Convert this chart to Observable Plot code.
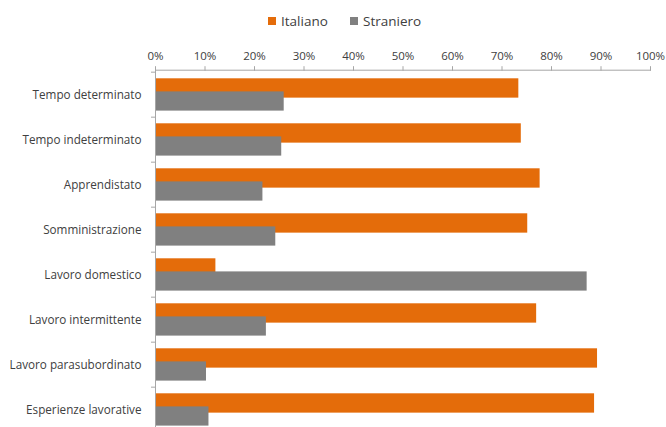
<!DOCTYPE html>
<html>
<head>
<meta charset="utf-8">
<script src="https://cdn.jsdelivr.net/npm/d3@7"></script>
<script src="https://cdn.jsdelivr.net/npm/@observablehq/plot@0.6"></script>
<style>
  html, body { margin: 0; padding: 0; background: #fff; overflow: hidden; }
  body { width: 666px; height: 427px; font-family: "Open Sans", sans-serif; }
  #legend { height: 36px; position: relative; font-size: 13.5px; color: #404040; }
  #legend .item { position: absolute; top: 12px; display: flex; align-items: center; white-space: nowrap; }
  #legend .sw { width: 8px; height: 8px; margin-right: 5px; display: inline-block; }
</style>
</head>
<body>
<div id="legend"></div>
<div id="chart"></div>
<script>
const categories = [
  "Tempo determinato",
  "Tempo indeterminato",
  "Apprendistato",
  "Somministrazione",
  "Lavoro domestico",
  "Lavoro intermittente",
  "Lavoro parasubordinato",
  "Esperienze lavorative"
];
const italiano  = [73.4, 73.9, 77.7, 75.2, 12.2, 77.0, 89.3, 88.7];
const straniero = [26.0, 25.5, 21.7, 24.3, 87.2, 22.4, 10.3, 10.8];
const seriesNames = ["Italiano", "Straniero"];
const seriesColors = ["#E46C0A", "#808080"];
const xTicks = [0, 10, 20, 30, 40, 50, 60, 70, 80, 90, 100];

const data = categories.map((c, i) => ({cat: c, italiano: italiano[i], straniero: straniero[i]}));

// legend
const legend = document.getElementById("legend");
const lefts = [268, 350];
seriesNames.forEach((name, i) => {
  const item = document.createElement("div");
  item.className = "item";
  item.style.left = lefts[i] + "px";
  const sw = document.createElement("span");
  sw.className = "sw";
  sw.style.background = seriesColors[i];
  const t = document.createElement("span");
  t.textContent = name;
  item.appendChild(sw);
  item.appendChild(t);
  legend.appendChild(item);
});

const H = 399, MT = 33.7;
const step = (H - MT) / categories.length;
const axisColor = "#a6a6a6";
const textColor = "#404040";

const chart = Plot.plot({
  width: 666,
  height: H,
  marginTop: MT,
  marginBottom: 0,
  marginLeft: 155,
  marginRight: 16,
  style: {fontFamily: "'Open Sans', sans-serif", background: "#fff", overflow: "visible"},
  x: {domain: [0, 100], axis: null},
  y: {domain: categories, padding: 0, axis: null},
  marks: [
    Plot.barX(data, {x: "italiano", y: "cat", fill: seriesColors[0], insetTop: 6.3, insetBottom: step - 26.3}),
    Plot.barX(data, {x: "straniero", y: "cat", fill: seriesColors[1], insetTop: 19.4, insetBottom: 6.4}),
    Plot.frame({anchor: "top", stroke: axisColor}),
    Plot.ruleX([0], {stroke: axisColor}),
    Plot.axisX(xTicks, {anchor: "top", tickSize: 4.5, tickPadding: 6, tickFormat: d => d + "%", stroke: axisColor, fill: textColor, fontSize: 11.5, label: null}),
    Plot.axisY({anchor: "left", tickSize: 0, tickPadding: 14, fill: textColor, fontSize: 11.7, label: null}),
    Plot.ruleY(categories, {y: d => d, x1: 0, x2: 0, insetLeft: -4, dy: -step / 2, stroke: axisColor})
  ]
});
document.getElementById("chart").appendChild(chart);
</script>
</body>
</html>
